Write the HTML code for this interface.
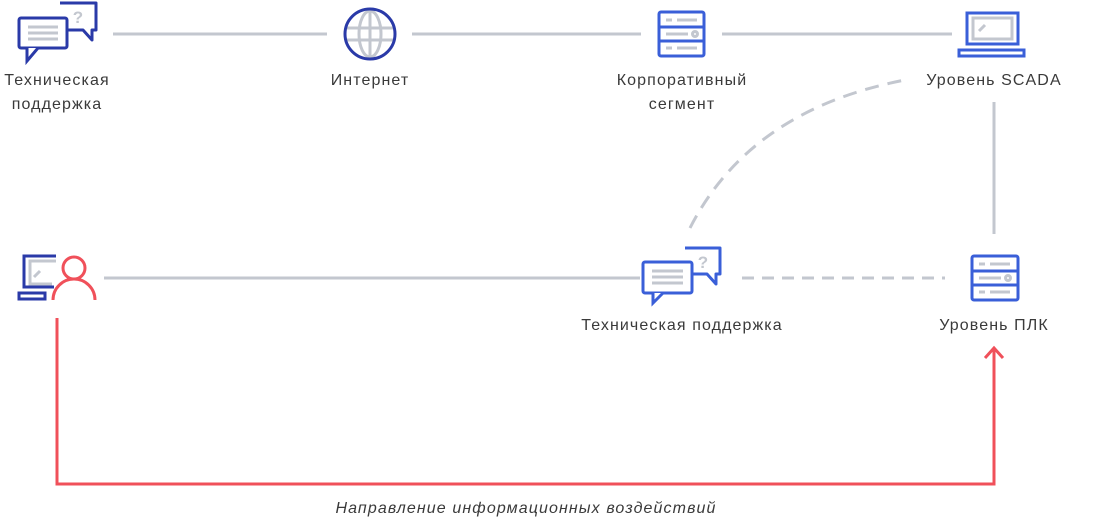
<!DOCTYPE html>
<html><head><meta charset="utf-8"><style>
html,body{margin:0;padding:0;background:#fff;}
svg text{font-family:"Liberation Sans",sans-serif;font-size:16px;fill:#3a3a3a;letter-spacing:1.1px;}
</style></head><body>
<svg width="1101" height="519" viewBox="0 0 1101 519" xmlns="http://www.w3.org/2000/svg">
<g stroke="#c3c7cf" stroke-width="3" fill="none">
<line x1="113" y1="34" x2="327" y2="34"/>
<line x1="412" y1="34" x2="641" y2="34"/>
<line x1="722" y1="34" x2="952" y2="34"/>
<line x1="994" y1="102" x2="994" y2="234"/>
<line x1="104" y1="278" x2="640" y2="278"/>
<line x1="742" y1="278" x2="945" y2="278" stroke-dasharray="12 8"/>
<path d="M690 228 Q750 110 905 80" stroke-dasharray="14 9"/>
</g>
<!-- top-left chat -->
<g fill="none" stroke-width="3">
<path d="M60 3 H96 V30 H92 V40 L83 30 H68" stroke="#2a3aa8" stroke-linejoin="round"/>
<rect x="19" y="18" width="48" height="30" rx="2" fill="#fff" stroke="#2a3aa8"/>
<path d="M27 48 V61 L38 48" stroke="#2a3aa8" fill="#fff"/>
<g stroke="#c3c7cf"><line x1="28" y1="27" x2="58" y2="27"/><line x1="28" y1="33" x2="58" y2="33"/><line x1="28" y1="39" x2="58" y2="39"/></g>
</g>
<text x="78" y="23" style="font-size:17px;fill:#c3c7cf;font-weight:bold;letter-spacing:0" text-anchor="middle">?</text>
<!-- globe -->
<g fill="none" stroke-width="3">
<g stroke="#c3c7cf"><line x1="347" y1="28" x2="393" y2="28"/><line x1="347" y1="40" x2="393" y2="40"/><line x1="370" y1="10" x2="370" y2="58"/><ellipse cx="370" cy="34" rx="11" ry="23"/></g>
<circle cx="370" cy="34" r="25" stroke="#2a3aa8"/>
</g>
<!-- corporate server -->
<g fill="none" stroke-width="3" stroke="#3a5fd8">
<rect x="659" y="12" width="45" height="44" rx="2"/>
<line x1="659" y1="27" x2="704" y2="27"/><line x1="659" y1="41" x2="704" y2="41"/>
</g>
<g stroke="#c3c7cf" stroke-width="3" fill="none"><line x1="666" y1="20" x2="672" y2="20"/><line x1="677" y1="20" x2="697" y2="20"/><line x1="666" y1="34" x2="688" y2="34"/><circle cx="695" cy="34" r="2.5"/><line x1="666" y1="48" x2="672" y2="48"/><line x1="677" y1="48" x2="697" y2="48"/></g>
<!-- laptop -->
<g fill="none" stroke-width="3">
<rect x="967" y="13" width="51" height="31" stroke="#3a5fd8"/>
<rect x="973" y="18" width="39" height="21" stroke="#c3c7cf"/>
<line x1="979" y1="31" x2="985" y2="25" stroke="#c3c7cf"/>
<rect x="959" y="50" width="65" height="6" stroke="#3a5fd8"/>
</g>
<!-- left user -->
<g fill="none" stroke-width="3">
<path d="M56 256 H24 V287 H54" stroke="#2a3aa8"/>
<rect x="19" y="293" width="26" height="6" stroke="#2a3aa8"/>
<path d="M56 261 H30 V284 H52" stroke="#c3c7cf"/>
<line x1="34" y1="277" x2="40" y2="271" stroke="#c3c7cf"/>
<circle cx="74" cy="268" r="11" stroke="#f0505a"/>
<path d="M53 300 A21 21 0 0 1 95 300" stroke="#f0505a"/>
</g>
<!-- bottom chat -->
<g fill="none" stroke-width="3">
<path d="M685 248 H720 V274 H716 V284 L707 274 H692" stroke="#3a5fd8" stroke-linejoin="round"/>
<rect x="643" y="262" width="49" height="31" rx="2" fill="#fff" stroke="#3a5fd8"/>
<path d="M653 293 V303 L663 293" stroke="#3a5fd8" fill="#fff"/>
<g stroke="#c3c7cf"><line x1="652" y1="271" x2="683" y2="271"/><line x1="652" y1="277" x2="683" y2="277"/><line x1="652" y1="283" x2="683" y2="283"/></g>
</g>
<text x="703" y="268" style="font-size:17px;fill:#c3c7cf;font-weight:bold;letter-spacing:0" text-anchor="middle">?</text>
<!-- PLC server -->
<g fill="none" stroke-width="3" stroke="#3a5fd8">
<rect x="972" y="256" width="46" height="44" rx="2"/>
<line x1="972" y1="271" x2="1018" y2="271"/><line x1="972" y1="285" x2="1018" y2="285"/>
</g>
<g stroke="#c3c7cf" stroke-width="3" fill="none"><line x1="979" y1="264" x2="985" y2="264"/><line x1="990" y1="264" x2="1010" y2="264"/><line x1="979" y1="278" x2="1001" y2="278"/><circle cx="1008" cy="278" r="2.5"/><line x1="979" y1="292" x2="985" y2="292"/><line x1="990" y1="292" x2="1010" y2="292"/></g>
<!-- red arrow -->
<g fill="none" stroke="#f0505a" stroke-width="3">
<path d="M57 318 V484 H994 V350"/>
<path d="M985 358 L994 348 L1003 358"/>
</g>
<!-- labels -->
<text x="57" y="85" text-anchor="middle">Техническая</text>
<text x="57" y="109" text-anchor="middle">поддержка</text>
<text x="370" y="85" text-anchor="middle">Интернет</text>
<text x="682" y="85" text-anchor="middle">Корпоративный</text>
<text x="682" y="109" text-anchor="middle">сегмент</text>
<text x="994" y="85" text-anchor="middle">Уровень SCADA</text>
<text x="682" y="330" text-anchor="middle">Техническая поддержка</text>
<text x="994" y="330" text-anchor="middle">Уровень ПЛК</text>
<text x="526" y="513" text-anchor="middle" style="font-style:italic">Направление информационных воздействий</text>
</svg>
</body></html>
